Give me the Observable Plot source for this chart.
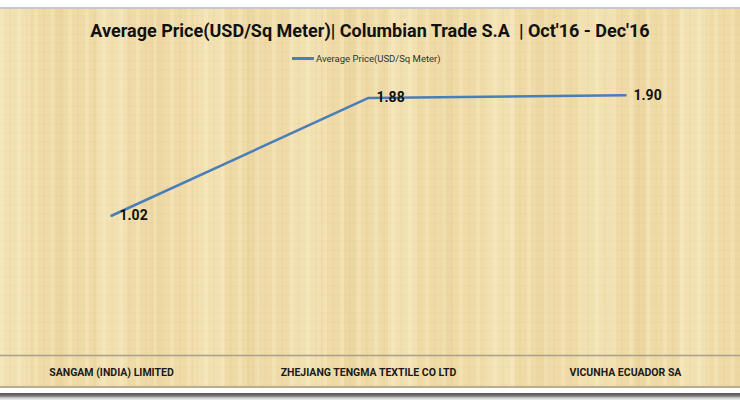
<!DOCTYPE html>
<html>
<head>
<meta charset="utf-8">
<script src="https://cdn.jsdelivr.net/npm/d3@7"></script>
<script src="https://cdn.jsdelivr.net/npm/@observablehq/plot@0.6"></script>
<style>
  html, body { margin: 0; padding: 0; background: #ffffff; width: 740px; height: 400px; overflow: hidden; }
  #topbar { position: absolute; left: 0; top: 0; width: 740px; height: 7px; background: #fff; border-bottom: 2px solid #c8c8c8; }
  #paper {
    position: absolute; left: 0; top: 9px; width: 740px; height: 377px;
    background-color: #efdba7;
    background-image:
      repeating-linear-gradient(90deg, rgba(255,248,220,0.22) 0px, rgba(255,248,220,0.22) 4px, rgba(255,255,255,0) 4px, rgba(255,255,255,0) 9px, rgba(205,175,110,0.08) 9px, rgba(205,175,110,0.08) 11px, rgba(255,255,255,0) 11px, rgba(255,255,255,0) 17px),
      repeating-linear-gradient(90deg, rgba(255,250,225,0.18) 0px, rgba(255,250,225,0.18) 30px, rgba(255,255,255,0) 30px, rgba(255,255,255,0) 53px, rgba(200,165,95,0.07) 53px, rgba(200,165,95,0.07) 64px, rgba(255,255,255,0) 64px, rgba(255,255,255,0) 97px),
      repeating-linear-gradient(0deg, rgba(210,180,110,0.06) 0px, rgba(210,180,110,0.06) 2px, rgba(255,255,255,0) 2px, rgba(255,255,255,0) 9px);
    border-bottom: 2px solid #b9ad8e;
  }
  #bottomshadow { position: absolute; left: 0; top: 393px; width: 740px; height: 7px; background: linear-gradient(#555 0px, #777 3px, #d0d0d0 5px, #eee 7px); }
  #title { position: absolute; left: 0; top: 20px; width: 740px; text-align: center;
    font-family: "Roboto", sans-serif; font-weight: bold; font-size: 18px; color: #111; }
  #legend { position: absolute; left: 292px; top: 53px; font-family: "Roboto", sans-serif; font-size: 9.5px; color: #333; display: flex; align-items: center; }
  #legend .sw { width: 22px; height: 3px; background: #4a7ebb; margin-right: 2px; }
  #chart { position: absolute; left: 0; top: 0; }
</style>
</head>
<body>
<div id="topbar"></div>
<div id="paper"></div>
<div id="bottomshadow"></div>
<div id="title">Average Price(USD/Sq Meter)| Columbian Trade S.A&nbsp; | Oct'16 - Dec'16</div>
<div id="legend"><span class="sw"></span><span>Average Price(USD/Sq Meter)</span></div>
<div id="chart"></div>
<script>
const companies = ["SANGAM (INDIA) LIMITED", "ZHEJIANG TENGMA TEXTILE CO LTD", "VICUNHA ECUADOR SA"];
const prices = [1.02, 1.88, 1.90];
const priceLabels = ["1.02", "1.88", "1.90"];

const data = companies.map((c, i) => ({company: c, price: prices[i], label: priceLabels[i]}));

const chart = Plot.plot({
  width: 740,
  height: 400,
  marginLeft: 110,
  marginRight: 115,
  marginTop: 81,
  marginBottom: 45,
  style: {background: "transparent", fontFamily: "Roboto, sans-serif"},
  x: {type: "point", domain: companies, padding: 0, label: null},
  y: {domain: [0, 2], axis: null},
  marks: [
    Plot.ruleY([0], {stroke: "#a8a08a", strokeWidth: 1.5, insetLeft: -110, insetRight: -115}),
    Plot.axisX({tickSize: 0, tickPadding: 13, fontSize: 10.5, fontWeight: "bold", fill: "#1a1a1a", label: null}),
    Plot.line(data, {x: "company", y: "price", stroke: "#4a7ebb", strokeWidth: 2.5}),
    Plot.text(data, {x: "company", y: "price", text: "label", dx: 8, textAnchor: "start", fontSize: 14, fontWeight: "bold", fill: "#111"})
  ]
});
document.getElementById("chart").appendChild(chart);
</script>
</body>
</html>
